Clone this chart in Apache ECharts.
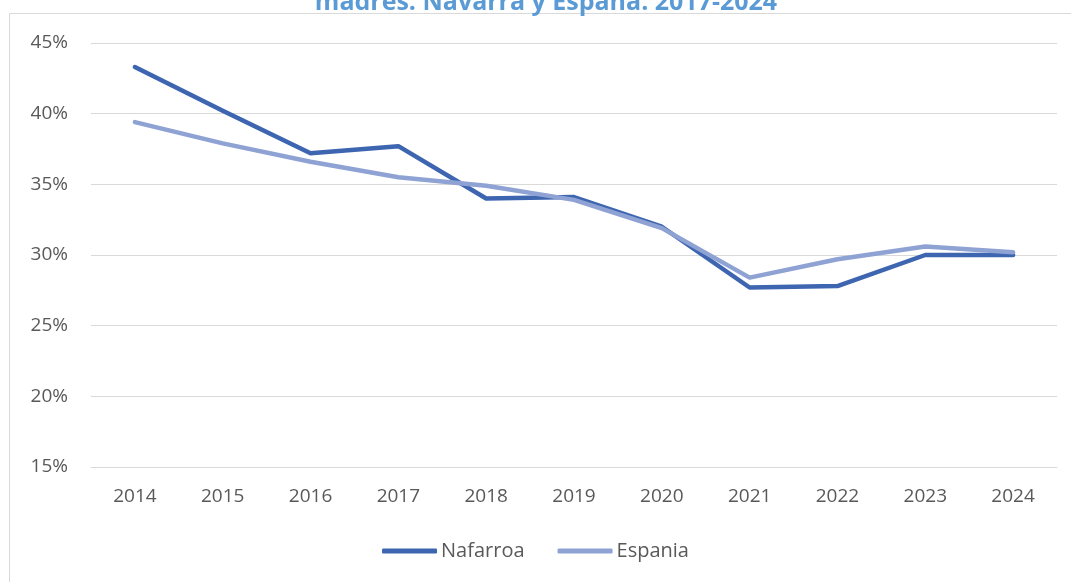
<!DOCTYPE html>
<html>
<head>
<meta charset="utf-8">
<script src="https://cdn.jsdelivr.net/npm/echarts@6/dist/echarts.min.js"></script>
<style>
html,body{margin:0;padding:0;background:#fff;}
#chart{width:1071px;height:582px;}
</style>
</head>
<body>
<div id="chart"></div>
<script>
const years = ['2014','2015','2016','2017','2018','2019','2020','2021','2022','2023','2024'];
const nafarroa = [43.3, 40.2, 37.2, 37.7, 34.0, 34.1, 32.0, 27.7, 27.8, 30.0, 30.0];
const espania  = [39.4, 37.9, 36.6, 35.5, 34.9, 33.9, 31.9, 28.4, 29.7, 30.6, 30.2];
const titleText = 'madres. Navarra y España. 2017-2024';

const chart = echarts.init(document.getElementById('chart'), null, {renderer:'canvas'});
const font = 'Open Sans';
chart.setOption({
  animation: false,
  backgroundColor: '#fff',
  graphic: [
    {type:'line', shape:{x1:9.5,y1:13.5,x2:1071,y2:13.5}, style:{stroke:'#d9d9d9', lineWidth:1}},
    {type:'line', shape:{x1:9.5,y1:13.5,x2:9.5,y2:582}, style:{stroke:'#d9d9d9', lineWidth:1}},
    {type:'text', x:546, y:-10, style:{text:titleText, fill:'#5B9BD5', font:'bold 25px "Open Sans"', textAlign:'center', textVerticalAlign:'top'}}
  ],
  grid: {left:91, right:14, top:43, bottom:115, containLabel:false},
  legend: {
    top: 536, left: 'center',
    itemWidth: 55, itemHeight: 5, itemGap: 33,
    icon: 'roundRect',
    textStyle: {fontFamily: font, fontSize: 20, color: '#595959', padding:[0,0,0,-1]},
    data: ['Nafarroa','Espania']
  },
  xAxis: {
    type:'category', data: years, boundaryGap:true,
    axisLine:{show:true, lineStyle:{color:'#d9d9d9'}},
    axisTick:{show:false},
    axisLabel:{fontFamily:font, fontSize:19, color:'#595959', margin:20}
  },
  yAxis: {
    type:'value', min:15, max:45, interval:5,
    axisLine:{show:false}, axisTick:{show:false},
    splitLine:{lineStyle:{color:'#d9d9d9', width:1}},
    axisLabel:{fontFamily:font, fontSize:19, color:'#595959', margin:23, formatter: v => v + '%'}
  },
  series: [
    {name:'Nafarroa', type:'line', data:nafarroa, symbol:'none', color:'#3D65B0',
     lineStyle:{width:4.5, color:'#3D65B0', cap:'round', join:'round'}},
    {name:'Espania', type:'line', data:espania, symbol:'none', color:'#8FA2D4',
     lineStyle:{width:4.5, color:'#8FA2D4', cap:'round', join:'round'}}
  ]
});
</script>
</body>
</html>
